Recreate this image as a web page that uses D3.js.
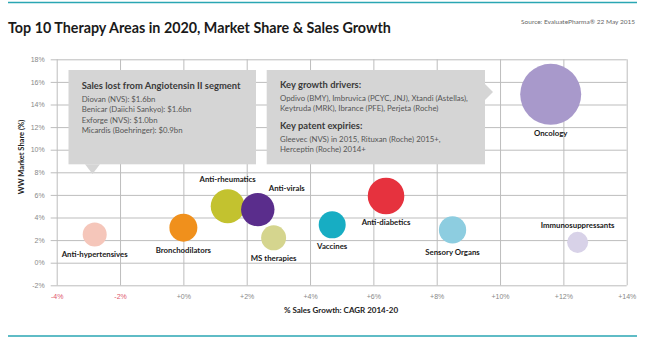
<!DOCTYPE html>
<html lang="en">
<head>
<meta charset="utf-8">
<title>Top 10 Therapy Areas in 2020</title>
<script src="https://cdn.jsdelivr.net/npm/d3@7/dist/d3.min.js"></script>
<style>
  body { margin: 0; background: #fff; }
  svg { font-family: Lato, "Open Sans", sans-serif; display: block; }
</style>
</head>
<body>
<script>
// data
var areas  = ["Anti-hypertensives", "Bronchodilators", "Anti-rheumatics", "Anti-virals", "MS therapies",
              "Vaccines", "Anti-diabetics", "Sensory Organs", "Immunosuppressants", "Oncology"];
var growth = [-2.8, 0.0, 1.4, 2.35, 2.85, 4.7, 6.4, 8.5, 12.45, 11.6];     // % CAGR 2014-20
var share  = [2.5, 3.1, 5.0, 4.7, 2.2, 3.35, 5.9, 2.9, 1.8, 14.9];         // WW market share %
var size   = [15.5, 21, 31, 30, 16.8, 19.6, 36, 20, 11.9, 100];            // relative bubble size
var xTicks = [-4, -2, 0, 2, 4, 6, 8, 10, 12, 14];
var yTicks = [-2, 0, 2, 4, 6, 8, 10, 12, 14, 16, 18];

var leftNoteTitle = "Sales lost from Angiotensin II segment";
var leftNoteLines = ["Diovan (NVS): $1.6bn", "Benicar (Daiichi Sankyo): $1.6bn",
                     "Exforge (NVS): $1.0bn", "Micardis (Boehringer): $0.9bn"];
var rightNoteTitle1 = "Key growth drivers:";
var rightNoteLines1 = ["Opdivo (BMY), Imbruvica (PCYC, JNJ), Xtandi (Astellas),",
                       "Keytruda (MRK), Ibrance (PFE), Perjeta (Roche)"];
var rightNoteTitle2 = "Key patent expiries:";
var rightNoteLines2 = ["Gleevec (NVS) in 2015, Rituxan (Roche) 2015+,",
                       "Herceptin (Roche) 2014+"];

var colors = ["#f5c6ba", "#f0901c", "#c3c22f", "#5a2d8c", "#d5d58e",
              "#17adc3", "#e6323e", "#8dcde0", "#d8d2e8", "#a899cb"];

var w = 647, h = 339;
var svg = d3.select("body").append("svg").attr("width", w).attr("height", h);

// teal rules top and bottom
svg.append("line").attr("x1", 8).attr("x2", 637).attr("y1", 2.5).attr("y2", 2.5)
   .attr("stroke", "#2aa6b3").attr("stroke-width", 1.5);
svg.append("line").attr("x1", 8).attr("x2", 637).attr("y1", 336).attr("y2", 336)
   .attr("stroke", "#2aa6b3").attr("stroke-width", 1.5);

svg.append("text").attr("x", 8).attr("y", 33)
   .attr("font-size", 14.3).attr("font-weight", "bold").attr("fill", "#1a1a1a")
   .text("Top 10 Therapy Areas in 2020, Market Share & Sales Growth");
svg.append("text").attr("x", 635).attr("y", 24).attr("text-anchor", "end")
   .attr("font-size", 6.5).attr("fill", "#666")
   .text("Source: EvaluatePharma\u00ae 22 May 2015");

var plotL = 56.7, plotR = 626.7, plotT = 59.3, plotB = 285.3;
var x = d3.scaleLinear().domain([-4, 14]).range([plotL, plotR]);
var y = d3.scaleLinear().domain([-2, 18]).range([plotB, plotT]);
var r = d3.scaleSqrt().domain([0, 100]).range([0, 30.5]);

var fmtX = function(d) { return (d >= 0 ? "+" : "") + d + "%"; };

var yAxis = svg.append("g").attr("transform", "translate(" + plotL + ",0)")
  .call(d3.axisLeft(y).tickValues(yTicks).tickSizeInner(-(plotR - plotL)).tickSizeOuter(0)
        .tickPadding(12).tickFormat(function(d) { return d + "%"; }));
yAxis.select(".domain").remove();
yAxis.selectAll(".tick line").attr("x1", -6).attr("stroke", "#bdbdbd");
yAxis.selectAll(".tick text").attr("font-size", 7).attr("fill", "#888").attr("font-family", null);

var xAxis = svg.append("g").attr("transform", "translate(0," + plotB + ")")
  .call(d3.axisBottom(x).tickValues(xTicks).tickSizeInner(-(plotB - plotT)).tickSizeOuter(0)
        .tickPadding(9).tickFormat(fmtX));
xAxis.select(".domain").remove();
xAxis.selectAll(".tick line").attr("stroke", "#bdbdbd");
xAxis.selectAll(".tick text").attr("font-size", 7).attr("font-family", null)
  .attr("fill", function(d) { return d < 0 ? "#e0566c" : "#888"; });

// axis titles
svg.append("text").attr("x", 341).attr("y", 313).attr("text-anchor", "middle")
   .attr("font-size", 8).attr("font-weight", "bold").attr("fill", "#222")
   .text("% Sales Growth: CAGR 2014-20");
svg.append("text").attr("transform", "translate(24,157) rotate(-90)").attr("text-anchor", "middle")
   .attr("font-size", 7.5).attr("font-weight", "bold").attr("fill", "#222")
   .text("WW Market Share (%)");

// callout boxes
var boxFill = "#d5d5d5";
svg.append("rect").attr("x", 68.5).attr("y", 70).attr("width", 187.5).attr("height", 94.3).attr("fill", boxFill);
svg.append("path").attr("d", "M85,164.3 L100,164.3 L92.5,174 Z").attr("fill", boxFill);
svg.append("rect").attr("x", 266.7).attr("y", 70).attr("width", 218.3).attr("height", 94.3).attr("fill", boxFill);
svg.append("path").attr("d", "M485,84 L493,92 L485,100 Z").attr("fill", boxFill);

function note(x0, y0, title, lines) {
  svg.append("text").attr("x", x0).attr("y", y0).attr("font-size", 9.4).attr("font-weight", "bold")
     .attr("fill", "#3a3a3a").text(title);
  lines.forEach(function(t, i) {
    svg.append("text").attr("x", x0).attr("y", y0 + 12.5 + i * 10.6).attr("font-size", 7.8)
       .attr("fill", "#555").text(t);
  });
}
note(81.7, 89, leftNoteTitle, leftNoteLines);
note(280, 88, rightNoteTitle1, rightNoteLines1);
note(280, 129, rightNoteTitle2, rightNoteLines2);

// bubbles
var data = areas.map(function(a, i) {
  return { name: a, gx: growth[i], sy: share[i], s: size[i], c: colors[i] };
});
svg.selectAll("circle.bubble").data(data).enter().append("circle")
  .attr("class", "bubble")
  .attr("cx", function(d) { return x(d.gx); })
  .attr("cy", function(d) { return y(d.sy); })
  .attr("r", function(d) { return r(d.s); })
  .attr("fill", function(d) { return d.c; });

// labels: below the bubble unless listed here
var above = { "Anti-rheumatics": [0, -7], "Anti-virals": [29, -2], "Immunosuppressants": [0, -4] };
svg.selectAll("text.lbl").data(data).enter().append("text")
  .attr("class", "lbl")
  .attr("text-anchor", "middle")
  .attr("font-size", 7.8).attr("font-weight", "bold").attr("fill", "#1a1a1a")
  .attr("x", function(d) { return x(d.gx) + (above[d.name] ? above[d.name][0] : 0); })
  .attr("y", function(d) {
    var cy = y(d.sy), rr = r(d.s);
    return above[d.name] ? cy - rr + above[d.name][1] : cy + rr + 11;
  })
  .text(function(d) { return d.name; });
</script>
</body>
</html>
